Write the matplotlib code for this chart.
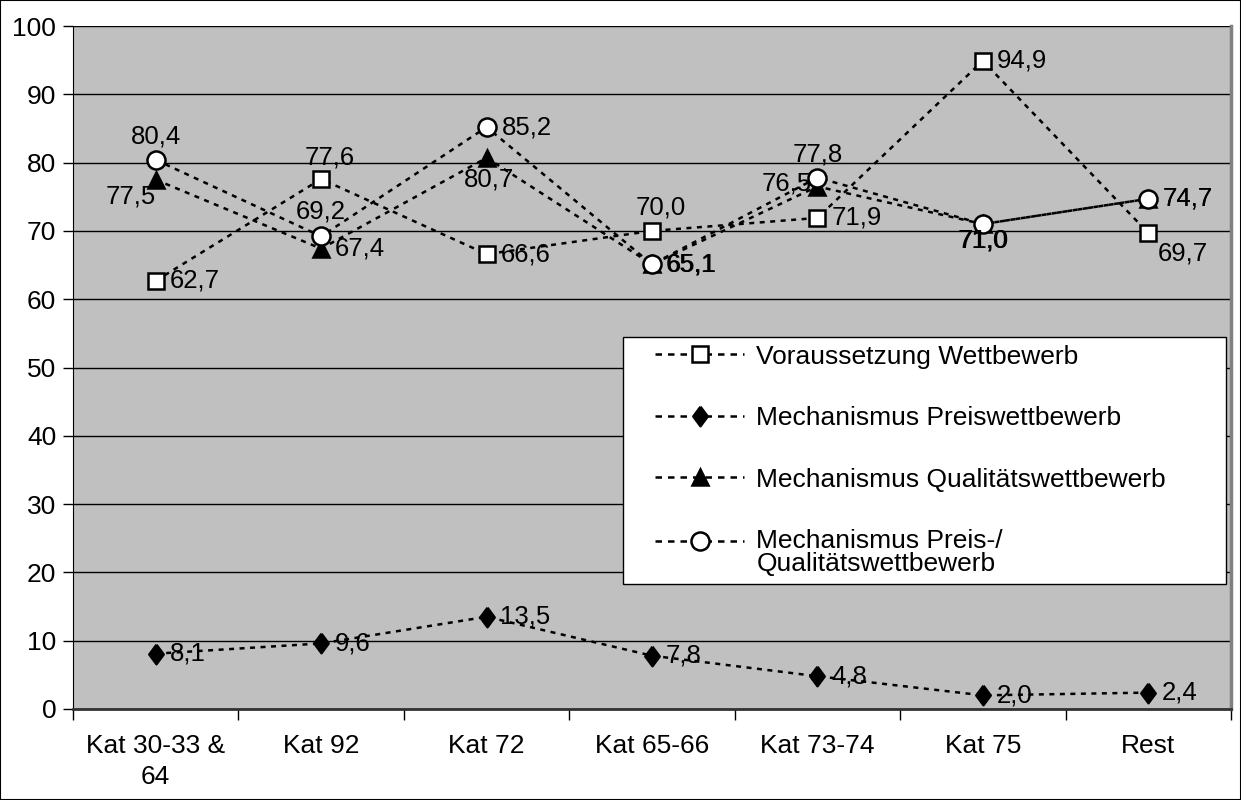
import matplotlib
matplotlib.use("Agg")
import matplotlib.pyplot as plt
from matplotlib.lines import Line2D
from matplotlib.patches import Rectangle
from matplotlib.legend_handler import HandlerLine2D

plt.rcParams['font.family'] = ['Liberation Sans', 'DejaVu Sans']

categories = ["Kat 30-33 &\n64", "Kat 92", "Kat 72", "Kat 65-66", "Kat 73-74", "Kat 75", "Rest"]

voraussetzung = [62.7, 77.6, 66.6, 70.0, 71.9, 94.9, 69.7]
preis = [8.1, 9.6, 13.5, 7.8, 4.8, 2.0, 2.4]
qualitaet = [77.5, 67.4, 80.7, 65.1, 76.5, 71.0, 74.7]
preis_qualitaet = [80.4, 69.2, 85.2, 65.1, 77.8, 71.0, 74.7]

series_names = [
    "Voraussetzung Wettbewerb",
    "Mechanismus Preiswettbewerb",
    "Mechanismus Qualitätswettbewerb",
    "Mechanismus Preis-/\nQualitätswettbewerb",
]

yticks = [0, 10, 20, 30, 40, 50, 60, 70, 80, 90, 100]

# label placement per point: (dx, dy) in points and alignment
R = ((10, 0), 'left', 'center')
A = ((0, 8), 'center', 'bottom')
B = ((0, -3), 'center', 'top')
lbl_vor = [R, ((6, 7), 'center', 'bottom'), R, ((6, 8), 'center', 'bottom'), R, R,
           ((7, -6), 'left', 'top')]
lbl_pre = [R] * 7
lbl_qua = [((0, -3.5), 'right', 'top'), R, ((2, -7), 'center', 'top'),
           ((10.6, 0), 'left', 'center'), ((-4, 2), 'right', 'center'),
           ((0.6, -3), 'center', 'top'), ((10.6, 0), 'left', 'center')]
lbl_pq = [A, ((0, 9), 'center', 'bottom'), ((11, 0), 'left', 'center'), R, A, B, R]

fmt = lambda v: f"{v:.1f}".replace(".", ",")


class RaisedLineHandler(HandlerLine2D):
    """Line handler that lifts the sample to the first row of a wrapped label."""

    def __init__(self, lift=0.0, **kw):
        super().__init__(**kw)
        self.lift = lift

    def create_artists(self, legend, orig_handle, xdescent, ydescent, width,
                       height, fontsize, trans):
        return super().create_artists(legend, orig_handle, xdescent,
                                      ydescent - 2 * self.lift, width, height,
                                      fontsize, trans)


W, H = 1241, 800
fig = plt.figure(figsize=(W / 100, H / 100), dpi=100)
ax = fig.add_axes([73 / W, (H - 709) / H, (1231 - 73) / W, (709 - 26) / H])
ax.set_facecolor('#C0C0C0')

x = list(range(len(categories)))
dash = (0, (2.0, 2.2))
lw = 1.8
FS = 19
FS_LBL = 18.5

tall_diamond = [(0, 1), (0.74, 0), (0, -1), (-0.74, 0), (0, 1)]

styles = [
    (voraussetzung, 's', 'white', 11, lbl_vor),
    (preis, tall_diamond, 'black', 14, lbl_pre),
    (qualitaet, '^', 'black', 12, lbl_qua),
    (preis_qualitaet, 'o', 'white', 13, lbl_pq),
]

handles = []
for (vals, mk, fc, ms, lbls), name in zip(styles, series_names):
    ax.plot(x, vals, color='black', linestyle=dash, lw=lw, marker=mk,
            markerfacecolor=fc, markeredgecolor='black', markeredgewidth=1.8,
            markersize=ms, zorder=3)
    for xi, v, (off, ha, va) in zip(x, vals, lbls):
        ax.annotate(fmt(v), (xi, v), xytext=off, textcoords='offset points',
                    ha=ha, va=va, fontsize=FS_LBL, color='black', zorder=5)
    handles.append(Line2D([0], [0], color='black', linestyle=(0, (2.6, 2.4)),
                          lw=lw, marker=mk, markerfacecolor=fc,
                          markeredgecolor='black', markeredgewidth=1.8,
                          markersize=ms))

ax.set_xlim(-0.5, len(categories) - 0.5)
ax.set_ylim(0, 100)
ax.set_yticks(yticks)
ax.set_yticklabels([str(t) for t in yticks], fontsize=FS)
ax.yaxis.grid(True, color='black', lw=1.0)
ax.set_axisbelow(True)

ax.set_xticks(x)
ax.set_xticklabels(categories, fontsize=FS, linespacing=1.35)
ax.tick_params(axis='x', which='major', length=0, pad=18)
ax.set_xticks([i - 0.5 for i in range(len(categories) + 1)], minor=True)
ax.tick_params(axis='x', which='minor', length=8, width=1, direction='out')
ax.tick_params(axis='y', length=7, width=1, direction='out', pad=5)

ax.spines['top'].set_visible(False)
ax.spines['right'].set_color('#808080')
ax.spines['right'].set_linewidth(2.5)
ax.spines['left'].set_color('black')
ax.spines['bottom'].set_color('#333333')
ax.spines['bottom'].set_linewidth(2.0)

base_handler = HandlerLine2D(xpad=0.9)
handler_map = {Line2D: base_handler,
               handles[3]: RaisedLineHandler(lift=8.5, xpad=0.9)}

leg = ax.legend(handles, series_names, loc='upper left',
                bbox_to_anchor=(0.475, 0.189, 0.521, 0.356),
                mode='expand', fontsize=FS, frameon=True, fancybox=False,
                edgecolor='black', facecolor='white', framealpha=1,
                handlelength=4.3, handletextpad=0.45, labelspacing=1.42,
                borderpad=0.3, borderaxespad=0, handler_map=handler_map)
leg.get_frame().set_linewidth(1.0)
leg.set_zorder(10)
for t in leg.get_texts():
    t.set_linespacing(0.95)

fig.patches.append(Rectangle((0, 0), 1, 1, transform=fig.transFigure,
                             fill=False, edgecolor='black', lw=1.5))

fig.savefig('out.png', dpi=100, facecolor='white')
